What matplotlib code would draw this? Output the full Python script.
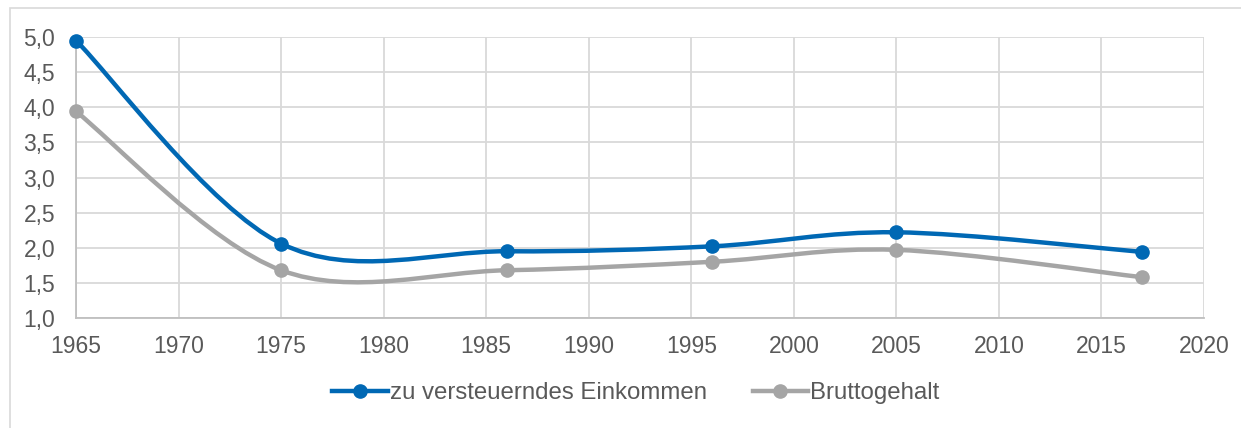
import matplotlib
matplotlib.use("Agg")
import matplotlib.pyplot as plt
import numpy as np
from matplotlib.path import Path
from matplotlib.patches import PathPatch, Rectangle
from matplotlib.lines import Line2D
from matplotlib.ticker import FuncFormatter

plt.rcParams['font.family'] = ['Liberation Sans', 'DejaVu Sans']

# data
years = [1965, 1975, 1986, 1996, 2005, 2017]
einkommen = [4.95, 2.06, 1.95, 2.02, 2.22, 1.94]
brutto = [3.94, 1.68, 1.68, 1.80, 1.97, 1.58]
labels = ['zu versteuerndes Einkommen', 'Bruttogehalt']

blue = '#0068B4'
gray = '#A5A5A5'
txt = '#595959'
fs = 16.5


def smooth_path(x, y):
    # Excel style smoothed line: bezier through the points (catmull-rom, 1/6)
    p = np.column_stack([x, y]).astype(float)
    verts = [p[0]]
    codes = [Path.MOVETO]
    n = len(p)
    for i in range(n - 1):
        p0 = p[i - 1] if i > 0 else p[i]
        p3 = p[i + 2] if i + 2 < n else p[i + 1]
        c1 = p[i] + (p[i + 1] - p0) / 6.0
        c2 = p[i + 1] - (p3 - p[i]) / 6.0
        verts += [c1, c2, p[i + 1]]
        codes += [Path.CURVE4] * 3
    return Path(verts, codes)


fig = plt.figure(figsize=(12.41, 4.28), dpi=100)
fig.patches.append(Rectangle((10 / 1241, -0.1), 1.2, 1 - 8 / 428 + 0.1,
                             transform=fig.transFigure, fill=False,
                             edgecolor='#D9D9D9', lw=1.2))
ax = fig.add_axes([76 / 1241, 1 - 318 / 428, (1204 - 76) / 1241, (318 - 37) / 428])

for vals, c in [(einkommen, blue), (brutto, gray)]:
    ax.add_patch(PathPatch(smooth_path(years, vals), fill=False, edgecolor=c,
                           lw=3.2, capstyle='round', zorder=3, clip_on=False))
    ax.plot(years, vals, 'o', color=c, ms=9.5, zorder=4, clip_on=False)

ax.set_xlim(1965, 2020)
ax.set_ylim(1.0, 5.0)
ax.set_xticks(np.arange(1965, 2021, 5))
ax.set_yticks(np.arange(1.0, 5.01, 0.5))
ax.yaxis.set_major_formatter(FuncFormatter(lambda v, _: f'{v:.1f}'.replace('.', ',')))
ax.grid(True, color='#D9D9D9', lw=1.3)
ax.set_axisbelow(True)
for s in ['top', 'right']:
    ax.spines[s].set_visible(False)
for s in ['left', 'bottom']:
    ax.spines[s].set_color('#BFBFBF')
    ax.spines[s].set_linewidth(1.3)
ax.tick_params(length=0, labelsize=fs, colors=txt)
ax.tick_params(axis='x', pad=12)
ax.tick_params(axis='y', pad=15)

handles = [Line2D([], [], color=blue, lw=3.2, marker='o', ms=9.5),
           Line2D([], [], color=gray, lw=3.2, marker='o', ms=9.5)]
fig.legend(handles, labels, loc='center', bbox_to_anchor=(636 / 1241, 1 - 393 / 428),
           ncol=2, frameon=False, fontsize=17.3, labelcolor=txt,
           handlelength=2.3, handletextpad=0.1, columnspacing=1.9)

fig.savefig('out.png', dpi=100)
